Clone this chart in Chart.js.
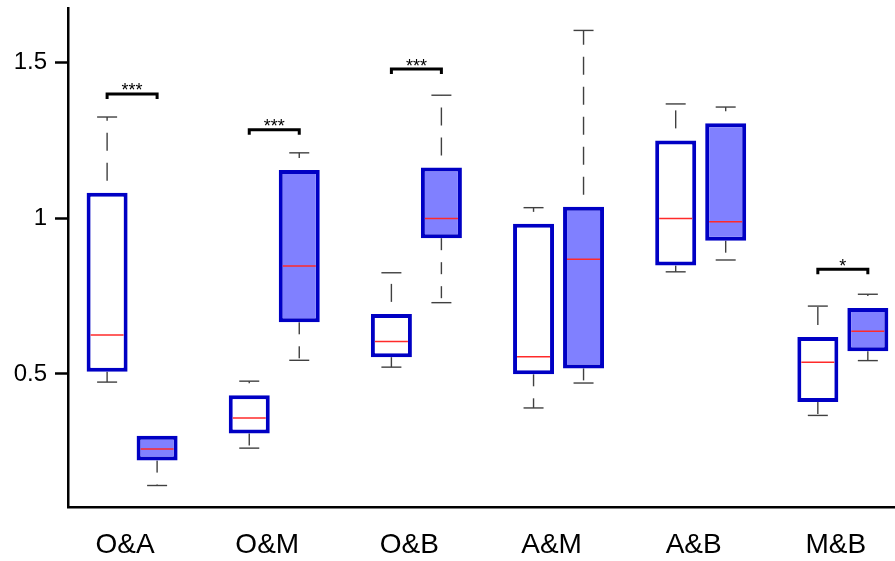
<!DOCTYPE html>
<html>
<head>
<meta charset="utf-8">
<title>Paired box plots</title>
<script src="https://cdn.jsdelivr.net/npm/chart.js@4/dist/chart.umd.min.js"></script>
<style>
  html, body { margin: 0; padding: 0; background: #ffffff; }
  #wrap { width: 895px; height: 561px; }
</style>
</head>
<body>
<div id="wrap"><canvas id="c" width="895" height="561"></canvas></div>
<script>
// Pair comparisons along the x axis
const categories = ['O&A', 'O&M', 'O&B', 'A&M', 'A&B', 'M&B'];

// First box of each pair (open boxes)
const firstMin    = [0.474, 0.262, 0.522, 0.391, 0.828, 0.367];
const firstQ1     = [0.507, 0.309, 0.554, 0.499, 0.848, 0.410];
const firstMedian = [0.625, 0.359, 0.604, 0.555, 0.999, 0.538];
const firstQ3     = [1.082, 0.432, 0.693, 0.982, 1.250, 0.619];
const firstMax    = [1.325, 0.477, 0.825, 1.034, 1.367, 0.718];

// Second box of each pair (filled boxes)
const secondMin    = [0.142, 0.544, 0.729, 0.471, 0.866, 0.543];
const secondQ1     = [0.222, 0.666, 0.936, 0.518, 0.928, 0.573];
const secondMedian = [0.259, 0.847, 0.999, 0.868, 0.989, 0.637];
const secondQ3     = [0.302, 1.155, 1.163, 1.037, 1.305, 0.712];
const secondMax    = [0.302, 1.210, 1.395, 1.603, 1.357, 0.756];

// Significance brackets
const sigPairs  = [0, 1, 2, 5];
const sigLevels = [1.399, 1.284, 1.479, 0.836];
const sigMarks  = ['***', '***', '***', '*'];

// Y axis ticks
const yTicks = [0.5, 1, 1.5];

const series = [
  { min: firstMin,  q1: firstQ1,  med: firstMedian,  q3: firstQ3,  max: firstMax },
  { min: secondMin, q1: secondQ1, med: secondMedian, q3: secondQ3, max: secondMax }
];

const FONT = '"Liberation Sans", Arial, Helvetica, sans-serif';

function boxData(s) {
  return categories.map((_, i) => ({ x: i, y: [s.q1[i], s.q3[i]] }));
}

function line(ctx, x1, y1, x2, y2) {
  ctx.beginPath();
  ctx.moveTo(x1, y1);
  ctx.lineTo(x2, y2);
  ctx.stroke();
}

function noLabelPadding(scale) {
  scale.paddingTop = 0;
  scale.paddingBottom = 0;
  scale.paddingLeft = 0;
  scale.paddingRight = 0;
}

// Whiskers, caps, medians and significance brackets
const boxExtras = {
  id: 'boxExtras',
  beforeDatasetsDraw(chart) {
    const ctx = chart.ctx;
    const ys = chart.scales.y;
    ctx.save();
    series.forEach((s, di) => {
      const meta = chart.getDatasetMeta(di);
      meta.data.forEach((bar, i) => {
        const { x } = bar.getProps(['x'], true);
        const pMax = ys.getPixelForValue(s.max[i]);
        const pMin = ys.getPixelForValue(s.min[i]);
        const pQ3 = ys.getPixelForValue(s.q3[i]);
        const pQ1 = ys.getPixelForValue(s.q1[i]);
        ctx.strokeStyle = '#404040';
        ctx.lineWidth = 1.4;
        ctx.lineCap = 'butt';
        if (s.max[i] > s.q3[i]) {
          ctx.setLineDash([18, 12]);
          ctx.lineDashOffset = 18;
          line(ctx, x, pQ3, x, pMax);
          ctx.setLineDash([]);
          line(ctx, x - 10, pMax, x + 10, pMax);
        }
        if (s.min[i] < s.q1[i]) {
          ctx.setLineDash([12, 12]);
          ctx.lineDashOffset = 0;
          line(ctx, x, pQ1, x, pMin);
          ctx.setLineDash([]);
          line(ctx, x - 10, pMin, x + 10, pMin);
        }
      });
    });
    ctx.restore();
  },
  afterDatasetsDraw(chart) {
    const ctx = chart.ctx;
    const ys = chart.scales.y;
    ctx.save();
    // medians
    series.forEach((s, di) => {
      const meta = chart.getDatasetMeta(di);
      meta.data.forEach((bar, i) => {
        const { x, width } = bar.getProps(['x', 'width'], true);
        const pMed = ys.getPixelForValue(s.med[i]);
        ctx.strokeStyle = '#ff2a2a';
        ctx.lineWidth = 1.5;
        line(ctx, x - width / 2 + 4, pMed, x + width / 2 - 4, pMed);
      });
    });
    // brackets
    const m0 = chart.getDatasetMeta(0);
    const m1 = chart.getDatasetMeta(1);
    sigPairs.forEach((g, k) => {
      const xa = m0.data[g].getProps(['x'], true).x;
      const xb = m1.data[g].getProps(['x'], true).x;
      const py = ys.getPixelForValue(sigLevels[k]);
      ctx.strokeStyle = '#000000';
      ctx.lineWidth = 3;
      ctx.lineCap = 'butt';
      ctx.lineJoin = 'miter';
      ctx.beginPath();
      ctx.moveTo(xa, py + 5);
      ctx.lineTo(xa, py);
      ctx.lineTo(xb, py);
      ctx.lineTo(xb, py + 5);
      ctx.stroke();
      ctx.fillStyle = '#000000';
      ctx.font = '18px ' + FONT;
      ctx.textAlign = 'center';
      ctx.textBaseline = 'alphabetic';
      ctx.fillText(sigMarks[k], (xa + xb) / 2, py + 2.5);
    });
    ctx.restore();
  }
};

new Chart(document.getElementById('c'), {
  type: 'bar',
  data: {
    datasets: [
      {
        data: boxData(series[0]),
        backgroundColor: '#ffffff',
        borderColor: '#0000c4',
        borderWidth: 4,
        borderSkipped: false,
        categoryPercentage: 0.7035,
        barPercentage: 0.82
      },
      {
        data: boxData(series[1]),
        backgroundColor: '#8080ff',
        borderColor: '#0000c4',
        borderWidth: 4,
        borderSkipped: false,
        categoryPercentage: 0.7035,
        barPercentage: 0.82
      }
    ]
  },
  options: {
    responsive: false,
    devicePixelRatio: 1,
    animation: false,
    events: [],
    layout: { padding: { top: 8, left: 0, right: 0, bottom: 0 } },
    plugins: { legend: { display: false }, tooltip: { enabled: false } },
    scales: {
      x: {
        type: 'linear',
        min: -0.451,
        max: 5.367,
        offset: false,
        afterBuildTicks: (scale) => { scale.ticks = categories.map((_, i) => ({ value: i })); },
        afterFit: (scale) => { scale.height = 54; noLabelPadding(scale); },
        grid: { display: false, drawTicks: false },
        border: { display: true, color: '#000000', width: 2.5 },
        ticks: {
          autoSkip: false,
          maxRotation: 0,
          padding: 21,
          labelOffset: -7,
          color: '#000000',
          font: { family: FONT, size: 28 },
          callback: (v) => categories[v]
        }
      },
      y: {
        min: 0.073,
        max: 1.675,
        afterBuildTicks: (scale) => { scale.ticks = yTicks.map(v => ({ value: v })); },
        afterFit: (scale) => { scale.width = 68; noLabelPadding(scale); },
        grid: {
          display: true,
          drawOnChartArea: false,
          drawTicks: true,
          tickLength: 13,
          tickWidth: 2.5,
          tickColor: '#000000'
        },
        border: { display: true, color: '#000000', width: 2.5 },
        ticks: {
          padding: 8,
          color: '#000000',
          font: { family: FONT, size: 24 },
          callback: (v) => String(v)
        }
      }
    }
  },
  plugins: [boxExtras]
});
</script>
</body>
</html>
